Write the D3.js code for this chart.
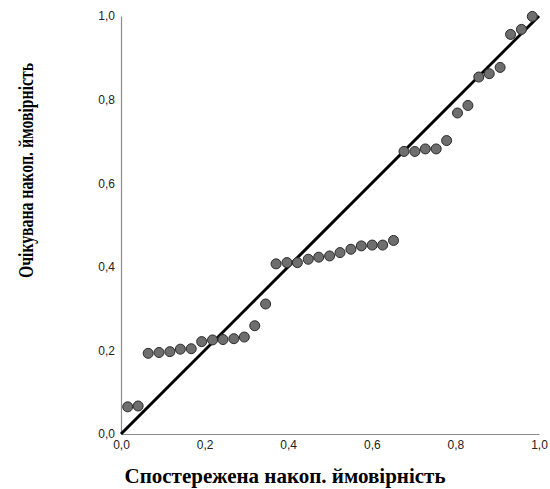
<!DOCTYPE html>
<html>
<head>
<meta charset="utf-8">
<script src="https://cdn.jsdelivr.net/npm/d3@7"></script>
<style>
  html, body { margin: 0; padding: 0; background: #fff; }
  svg { display: block; }
</style>
</head>
<body>
<svg id="chart" width="550" height="489"></svg>
<script>
// Observed cumulative probability (x) and expected cumulative probability (y)
const observed = [
  0.016, 0.041, 0.065, 0.091, 0.117, 0.142, 0.168, 0.193, 0.219, 0.244,
  0.270, 0.295, 0.320, 0.346, 0.371, 0.397, 0.422, 0.448, 0.473, 0.499,
  0.524, 0.550, 0.575, 0.601, 0.626, 0.652, 0.677, 0.703, 0.728, 0.754,
  0.779, 0.805, 0.830, 0.856, 0.881, 0.907, 0.932, 0.958, 0.984
];
const expected = [
  0.065, 0.067, 0.193, 0.195, 0.197, 0.203, 0.204, 0.221, 0.225, 0.226,
  0.228, 0.232, 0.259, 0.311, 0.407, 0.410, 0.410, 0.418, 0.423, 0.426,
  0.434, 0.442, 0.450, 0.452, 0.452, 0.463, 0.676, 0.676, 0.682, 0.682,
  0.702, 0.768, 0.786, 0.854, 0.862, 0.877, 0.956, 0.968, 0.999
];
const tickValues = [0, 0.2, 0.4, 0.6, 0.8, 1.0];
const tickLabels = ["0,0", "0,2", "0,4", "0,6", "0,8", "1,0"];
const xTitle = "Спостережена накоп. ймовірність";
const yTitle = "Очікувана накоп. ймовірність";

const svg = d3.select("#chart");
const x = d3.scaleLinear().domain([0, 1]).range([121, 539]);
const y = d3.scaleLinear().domain([0, 1]).range([434, 16]);

const fmt = d => tickLabels[tickValues.indexOf(d)];

// x axis
const gx = svg.append("g").attr("transform", `translate(0,${y(0)})`)
  .call(d3.axisBottom(x).tickValues(tickValues).tickFormat(fmt).tickSize(0).tickPadding(6));
gx.select(".domain").attr("stroke", "#8c8c8c").attr("stroke-width", 1.2);
gx.selectAll("text").attr("font-family", "Liberation Sans, Arial, sans-serif")
  .attr("font-size", 12).attr("fill", "#222");

// y axis
const gy = svg.append("g").attr("transform", `translate(${x(0)},0)`)
  .call(d3.axisLeft(y).tickValues(tickValues).tickFormat(fmt).tickSize(0).tickPadding(6));
gy.select(".domain").attr("stroke", "#8c8c8c").attr("stroke-width", 1.2);
gy.selectAll("text").attr("font-family", "Liberation Sans, Arial, sans-serif")
  .attr("font-size", 12).attr("fill", "#222");

// reference diagonal
svg.append("line")
  .attr("x1", x(0)).attr("y1", y(0)).attr("x2", x(1)).attr("y2", y(1))
  .attr("stroke", "#000").attr("stroke-width", 3);

// points
const pts = observed.map((o, i) => ({ o, e: expected[i] }));
svg.append("g").selectAll("circle").data(pts).join("circle")
  .attr("cx", d => x(d.o)).attr("cy", d => y(d.e)).attr("r", 5)
  .attr("fill", "#6e6e6e").attr("stroke", "#2a2a2a").attr("stroke-width", 1);

// axis titles
svg.append("text")
  .attr("x", 285).attr("y", 483)
  .attr("text-anchor", "middle")
  .attr("font-family", "Liberation Serif, Times New Roman, serif")
  .attr("font-weight", "bold").attr("font-size", 21).attr("fill", "#000")
  .text(xTitle);

// vertical title, condensed along its length
svg.append("text")
  .attr("transform", "translate(33,170.5) rotate(-90) scale(0.75,1)")
  .attr("text-anchor", "middle")
  .attr("font-family", "Liberation Serif, Times New Roman, serif")
  .attr("font-weight", "bold").attr("font-size", 21).attr("fill", "#000")
  .text(yTitle);
</script>
</body>
</html>
